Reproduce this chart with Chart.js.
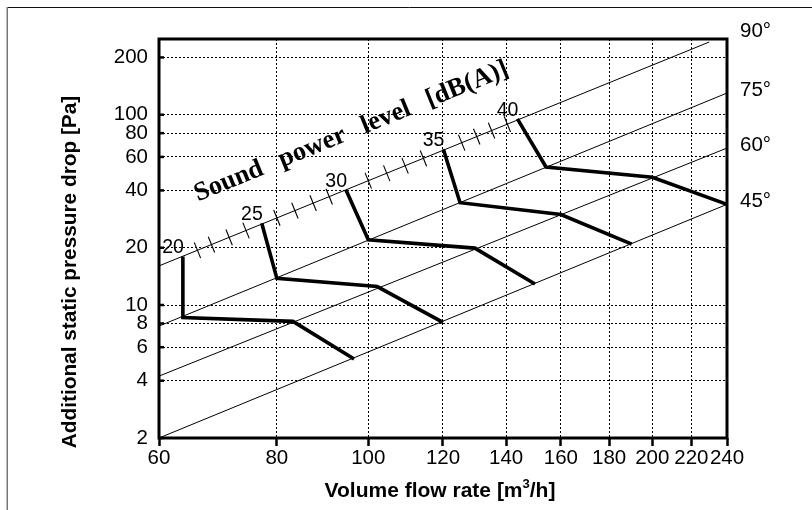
<!DOCTYPE html>
<html>
<head>
<meta charset="utf-8">
<script src="https://cdn.jsdelivr.net/npm/chart.js@4/dist/chart.umd.min.js"></script>
<style>
  html, body { margin: 0; padding: 0; background: #fff; }
  #wrap { position: relative; width: 812px; height: 510px; }
</style>
</head>
<body>
<div id="wrap"><canvas id="c" width="812" height="510"></canvas></div>
<script>
// Axis tick values
const xTicks = [60, 80, 100, 120, 140, 160, 180, 200, 220, 240];
const yTicks = [2, 4, 6, 8, 10, 20, 40, 60, 80, 100, 200];

// System curves (p ~ q^2), each given by its end points [flow m3/h, pressure Pa]
const curve45 = [[60, 2.0], [240, 33.8]];
const curve60 = [[60, 4.23], [240, 66.8]];
const curve75 = [[60, 7.75], [240, 130]];
const curve90 = [[60, 16.05], [229.8, 241]];

// Angle labels on the right, at the pressure each curve reaches at 240 m3/h
const angleLabels = ['90°', '75°', '60°', '45°'];
const angleRightPressure = [264, 130, 66.8, 33.8];

// Constant sound power level lines [flow, pressure]
const levelDb = [20, 25, 30, 35, 40];
const level20 = [[63.6, 18.0], [63.6, 8.6], [83.2, 8.2], [96.6, 5.2]];
const level25 = [[77.1, 26.9], [80.0, 13.8], [102.2, 12.5], [120, 8.1]];
const level30 = [[94.7, 40.2], [100, 22.0], [129.7, 19.9], [150.2, 12.9]];
const level35 = [[120.1, 65.8], [125.1, 34.5], [160, 29.9], [190.2, 20.9]];
const level40 = [[143.9, 95.1], [154.3, 53.1], [200, 46.9], [240, 33.8]];
const levelLines = [level20, level25, level30, level35, level40];

// dB scale marks along the 90° curve: flow rate of each 1 dB step from 20 to 40
const dbScaleFlow = [63.6, 65.9, 68.2, 71.2, 74.2, 77.1, 80.0, 83.6, 87.4, 90.9,
                     94.7, 100.0, 104.6, 109.4, 114.4, 120.1, 125.6, 130.3, 135.1, 140.4, 143.9];
const dbScaleWords = ['Sound', 'power', 'level', '[dB(A)]'];

const SANS = "'Liberation Sans', Arial, sans-serif";
const SERIF = "'Liberation Serif', 'Times New Roman', serif";

const toPts = arr => arr.map(([x, y]) => ({ x, y }));
const lineSet = (arr, w) => ({
  data: toPts(arr), showLine: true, borderColor: '#000', backgroundColor: '#000',
  borderWidth: w, pointRadius: 0, tension: 0, borderJoinStyle: 'miter', fill: false
});

const datasets = [
  ...levelLines.map(l => lineSet(l, 3.6)),
  ...[curve45, curve60, curve75, curve90].map(c => lineSet(c, 1))
];

const overlay = {
  id: 'overlay',
  beforeDraw(chart) {
    const { ctx } = chart;
    ctx.save();
    ctx.fillStyle = '#fff';
    ctx.fillRect(0, 0, chart.width, chart.height);
    ctx.strokeStyle = '#111';
    ctx.lineWidth = 1;
    ctx.beginPath();
    ctx.moveTo(7, 7.5); ctx.lineTo(chart.width, 7.5);
    ctx.stroke();
    ctx.strokeStyle = '#777';
    ctx.lineWidth = 1.5;
    ctx.beginPath();
    ctx.moveTo(7.25, 7); ctx.lineTo(7.25, chart.height);
    ctx.stroke();
    ctx.restore();
  },
  afterDatasetsDraw(chart) {
    const { ctx, chartArea: a, scales: { x, y } } = chart;
    ctx.save();

    // plot frame and inner y tick marks
    ctx.strokeStyle = '#000';
    ctx.lineWidth = 3;
    ctx.strokeRect(a.left, a.top, a.right - a.left, a.bottom - a.top);
    ctx.lineWidth = 2.5;
    yTicks.forEach(v => {
      const py = y.getPixelForValue(v);
      ctx.beginPath(); ctx.moveTo(a.left, py); ctx.lineTo(a.left + 5, py); ctx.stroke();
    });

    // 90° curve in pixels, used for the dB scale
    const p0x = x.getPixelForValue(curve90[0][0]), p0y = y.getPixelForValue(curve90[0][1]);
    const p1x = x.getPixelForValue(curve90[1][0]), p1y = y.getPixelForValue(curve90[1][1]);
    const dx = p1x - p0x, dy = p1y - p0y, len = Math.hypot(dx, dy);
    const ux = dx / len, uy = dy / len;
    const onCurveY = px => p0y + (px - p0x) * dy / dx;

    // 1 dB marks
    ctx.lineWidth = 1.1;
    dbScaleFlow.forEach((q, i) => {
      if (i % 5 === 0) return;
      const cx = x.getPixelForValue(q), cy = onCurveY(cx);
      const h = 8.5;
      ctx.beginPath();
      ctx.moveTo(cx + uy * h, cy - ux * h);
      ctx.lineTo(cx - uy * h, cy + ux * h);
      ctx.stroke();
    });

    // level numbers at the start of each sound line
    ctx.fillStyle = '#000';
    ctx.font = `19.5px ${SANS}`;
    ctx.textAlign = 'right';
    ctx.textBaseline = 'alphabetic';
    levelLines.forEach((l, i) => {
      const sx = x.getPixelForValue(l[0][0]), sy = y.getPixelForValue(l[0][1]);
      ctx.fillText(String(levelDb[i]), sx + 1, sy - 3);
    });

    // caption along the 90° curve
    ctx.save();
    const along = 60.5, above = 45;
    ctx.translate(p0x + ux * along + uy * above, p0y + uy * along - ux * above);
    ctx.rotate(Math.atan2(dy, dx));
    ctx.font = `bold 26.5px ${SERIF}`;
    ctx.textAlign = 'left';
    let off = 0;
    dbScaleWords.forEach(w => {
      ctx.fillText(w, off, 0);
      off += ctx.measureText(w).width + 18.5;
    });
    ctx.restore();

    // angle labels
    ctx.font = `20.5px ${SANS}`;
    ctx.textAlign = 'left';
    ctx.textBaseline = 'middle';
    angleLabels.forEach((t, i) => {
      ctx.fillText(t, a.right + 13, y.getPixelForValue(angleRightPressure[i]) - 3);
    });

    // axis titles
    ctx.save();
    ctx.font = `bold 20.8px ${SANS}`;
    ctx.textAlign = 'center';
    ctx.textBaseline = 'middle';
    ctx.translate(70, 272);
    ctx.rotate(-Math.PI / 2);
    ctx.fillText('Additional static pressure drop [Pa]', 0, 0);
    ctx.restore();

    const main = `bold 21px ${SANS}`, sup = `bold 13px ${SANS}`;
    const partA = 'Volume flow rate [m', partB = '3', partC = '/h]';
    ctx.font = main; const wA = ctx.measureText(partA).width, wC = ctx.measureText(partC).width;
    ctx.font = sup; const wB = ctx.measureText(partB).width;
    let tx = 440 - (wA + wB + wC) / 2;
    const base = 497;
    ctx.textAlign = 'left';
    ctx.textBaseline = 'alphabetic';
    ctx.font = main; ctx.fillText(partA, tx, base); tx += wA;
    ctx.font = sup; ctx.fillText(partB, tx, base - 9); tx += wB;
    ctx.font = main; ctx.fillText(partC, tx, base);
    ctx.restore();
  }
};

new Chart(document.getElementById('c'), {
  type: 'scatter',
  data: { datasets },
  options: {
    responsive: false,
    animation: false,
    events: [],
    layout: { padding: { top: 39, right: 85, left: 0, bottom: 0 } },
    plugins: { legend: { display: false }, tooltip: { enabled: false } },
    scales: {
      x: {
        type: 'logarithmic', min: 60, max: 240, position: 'bottom',
        afterBuildTicks: s => { s.ticks = xTicks.map(v => ({ value: v })); },
        afterFit: s => { s.height = 72; },
        ticks: {
          autoSkip: false, maxRotation: 0, minRotation: 0, color: '#000', padding: 0.5,
          font: { family: SANS, size: 20.5 }, callback: v => String(v)
        },
        grid: {
          color: '#000', lineWidth: 1, drawTicks: true, tickLength: 8,
          tickWidth: 2.5, tickColor: '#000', tickBorderDash: []
        },
        border: { display: false, dash: [2, 2] }
      },
      y: {
        type: 'logarithmic', min: 2, max: 250, position: 'left',
        afterBuildTicks: s => { s.ticks = yTicks.map(v => ({ value: v })); },
        afterFit: s => { s.width = 159; },
        ticks: {
          autoSkip: false, color: '#000', padding: 11,
          font: { family: SANS, size: 20.5 }, callback: v => String(v)
        },
        grid: { color: '#000', lineWidth: 1, drawTicks: false },
        border: { display: false, dash: [2, 2] }
      }
    }
  },
  plugins: [overlay]
});
</script>
</body>
</html>
